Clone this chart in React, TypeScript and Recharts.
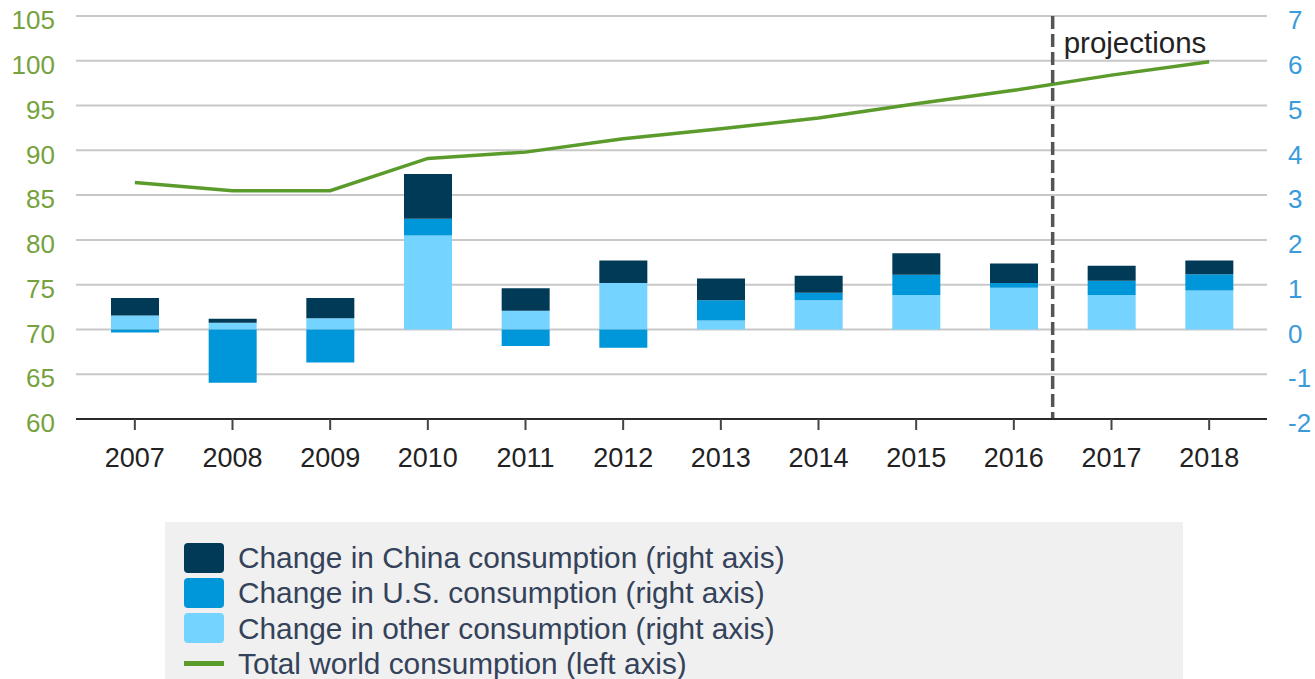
import React from 'react';
import {
  ComposedChart,
  Bar,
  Line,
  XAxis,
  YAxis,
  CartesianGrid,
  ReferenceLine,
} from 'recharts';

const years = ['2007', '2008', '2009', '2010', '2011', '2012', '2013', '2014', '2015', '2016', '2017', '2018'];
const chinaChange = [0.39, 0.09, 0.45, 1.0, 0.5, 0.5, 0.49, 0.38, 0.48, 0.43, 0.33, 0.31];
const usChange = [-0.07, -1.19, -0.74, 0.37, -0.37, -0.41, 0.45, 0.17, 0.45, 0.11, 0.32, 0.36];
const otherChange = [0.31, 0.15, 0.25, 2.1, 0.42, 1.04, 0.2, 0.65, 0.77, 0.93, 0.77, 0.87];
const totalWorld = [86.4, 85.5, 85.5, 89.1, 89.8, 91.3, 92.4, 93.6, 95.2, 96.7, 98.4, 99.9];

const leftTicks = [60, 65, 70, 75, 80, 85, 90, 95, 100, 105];
const rightTicks = [-2, -1, 0, 1, 2, 3, 4, 5, 6, 7];

const COLORS = {
  china: '#003A56',
  us: '#0096DA',
  other: '#75D3FF',
  total: '#5B9B2C',
};

const seriesLabels = {
  china: 'Change in China consumption (right axis)',
  us: 'Change in U.S. consumption (right axis)',
  other: 'Change in other consumption (right axis)',
  total: 'Total world consumption (left axis)',
};

const data = years.map((year, i) => ({
  year,
  china: chinaChange[i],
  us: usChange[i],
  other: otherChange[i],
  total: totalWorld[i],
}));

const FONT = '"Liberation Sans", Arial, sans-serif';

const LegendBox = () => {
  const rows: { key: keyof typeof seriesLabels; type: 'rect' | 'line' }[] = [
    { key: 'china', type: 'rect' },
    { key: 'us', type: 'rect' },
    { key: 'other', type: 'rect' },
    { key: 'total', type: 'line' },
  ];
  return (
    <div
      style={{
        position: 'absolute',
        left: 165,
        top: 522,
        background: '#F0F0F0',
        width: 1018,
        height: 170,
        boxSizing: 'border-box',
        paddingLeft: 19,
        paddingTop: 18,
        fontFamily: FONT,
        fontSize: 29.8,
        color: '#34425A',
      }}
    >
      {rows.map((r) => (
        <div key={r.key} style={{ display: 'flex', alignItems: 'center', height: 35.3 }}>
          <div style={{ width: 40, height: 30, display: 'flex', alignItems: 'center', flexShrink: 0 }}>
            {r.type === 'rect' ? (
              <div style={{ width: 40, height: 30, borderRadius: 4, background: (COLORS as any)[r.key] }} />
            ) : (
              <div style={{ width: 40, height: 5, background: COLORS.total }} />
            )}
          </div>
          <span style={{ marginLeft: 14, whiteSpace: 'nowrap', lineHeight: '35px' }}>{seriesLabels[r.key]}</span>
        </div>
      ))}
    </div>
  );
};

const ProjectionLine = (props: any) => {
  const { x1, y1, y2 } = props;
  const top = Math.min(y1, y2);
  const bottom = Math.max(y1, y2);
  const x = x1 - 10;
  return (
    <g>
      <line x1={x} y1={top} x2={x} y2={bottom} stroke="#555555" strokeWidth={3.5} strokeDasharray="13 5" />
      <text x={x + 11} y={top + 37} fontFamily={FONT} fontSize={29.5} fill="#222222">
        projections
      </text>
    </g>
  );
};

export default function App() {
  return (
    <div style={{ position: 'absolute', left: 0, top: 0, width: 1315, height: 679, overflow: 'hidden', background: '#fff' }}>
      <ComposedChart
        width={1315}
        height={679}
        data={data}
        stackOffset="sign"
        margin={{ top: 16, right: 0, bottom: 220, left: 0 }}
        barSize={48}
      >
        <CartesianGrid vertical={false} yAxisId="left" stroke="#C8C8C8" strokeWidth={2} />
        <XAxis
          dataKey="year"
          height={40}
          padding={{ left: 10, right: 9 }}
          axisLine={{ stroke: '#2A2A2A', strokeWidth: 2 }}
          tickLine={{ stroke: '#444444', strokeWidth: 2 }}
          tickSize={11}
          tickMargin={18}
          tick={{ fill: '#222222', fontSize: 27, fontFamily: FONT }}
          interval={0}
        />
        <YAxis
          yAxisId="left"
          orientation="left"
          width={76}
          domain={[60, 105]}
          ticks={leftTicks}
          axisLine={false}
          tickLine={false}
          tickSize={6}
          tickMargin={15}
          tick={{ fill: '#76A23D', fontSize: 26, fontFamily: FONT, dy: 4 }}
          interval={0}
        />
        <YAxis
          yAxisId="right"
          orientation="right"
          width={48}
          domain={[-2, 7]}
          ticks={rightTicks}
          axisLine={false}
          tickLine={false}
          tickSize={6}
          tickMargin={15}
          tick={{ fill: '#3A9BDA', fontSize: 26, fontFamily: FONT, dy: 4 }}
          interval={0}
        />
        <Bar yAxisId="right" dataKey="other" stackId="chg" fill={COLORS.other} isAnimationActive={false} />
        <Bar yAxisId="right" dataKey="us" stackId="chg" fill={COLORS.us} isAnimationActive={false} />
        <Bar yAxisId="right" dataKey="china" stackId="chg" fill={COLORS.china} isAnimationActive={false} />
        <Line
          yAxisId="left"
          type="linear"
          dataKey="total"
          stroke={COLORS.total}
          strokeWidth={3.5}
          dot={false}
          activeDot={false}
          isAnimationActive={false}
        />
        <ReferenceLine yAxisId="left" x="2016" position="end" shape={<ProjectionLine />} ifOverflow="visible" />
      </ComposedChart>
      <LegendBox />
    </div>
  );
}
